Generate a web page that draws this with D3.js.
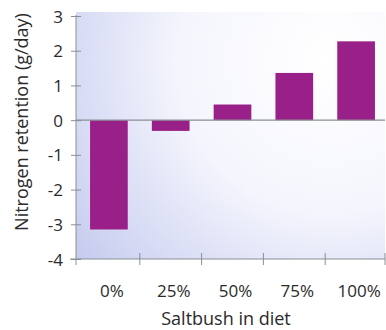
<!DOCTYPE html>
<html><head><meta charset="utf-8">
<script src="https://cdn.jsdelivr.net/npm/d3@7"></script>
<style>html,body{margin:0;padding:0;background:#fff;}svg{display:block;}</style>
</head><body>
<script>
const categories = ["0%", "25%", "50%", "75%", "100%"];
const values = [-3.15, -0.31, 0.45, 1.36, 2.27];
const yTicks = [3, 2, 1, 0, -1, -2, -3, -4];
const yTitle = "Nitrogen retention (g/day)";
const xTitle = "Saltbush in diet";

const W = 386, H = 330;
const svg = d3.select("body").append("svg").attr("width", W).attr("height", H);
const mL = 76, mR = 385, mT = 16, mB = 259;

const x = d3.scaleBand().domain(categories).range([mL, mR]).paddingInner(0.39).paddingOuter(0.195);
const y = d3.scaleLinear().domain([-4, 3]).range([mB, mT]);

const defs = svg.append("defs");
const grad = defs.append("radialGradient").attr("id", "bg")
  .attr("gradientUnits", "userSpaceOnUse")
  .attr("cx", 330).attr("cy", 60).attr("r", 330);
grad.append("stop").attr("offset", "0").attr("stop-color", "#ffffff");
grad.append("stop").attr("offset", "0.45").attr("stop-color", "#f5f6fd");
grad.append("stop").attr("offset", "1").attr("stop-color", "#c3c9ee");

svg.append("rect").attr("x", mL).attr("y", y(3) - 4).attr("width", mR - mL).attr("height", mB - y(3) + 4)
  .attr("fill", "url(#bg)");

// bars
svg.selectAll("rect.bar").data(values).enter().append("rect").attr("class", "bar")
  .attr("x", (d, i) => x(categories[i]) + 2)
  .attr("width", x.bandwidth())
  .attr("y", d => y(Math.max(0, d)))
  .attr("height", d => Math.abs(y(d) - y(0)))
  .attr("fill", "#9a2089");

// zero line
svg.append("line").attr("x1", mL).attr("x2", mR).attr("y1", y(0)).attr("y2", y(0))
  .attr("stroke", "#8a8f94").attr("stroke-width", 1.2);

// y axis
const yAxis = d3.axisLeft(y).tickValues(yTicks).tickSize(0).tickPadding(0).tickFormat(d => String(d));
const gy = svg.append("g").attr("transform", `translate(${mL},0)`).call(yAxis);
gy.select(".domain").attr("stroke", "#8a8f94").attr("d", `M0,${y(3) - 1}V${mB + 6}`);
gy.selectAll(".tick line").remove();
gy.selectAll(".tick").append("line").attr("x1", -5).attr("x2", 5).attr("stroke", "#8a8f94");
gy.selectAll(".tick text").attr("x", -13).attr("dy", "0.36em")
  .attr("font-family", "Open Sans").attr("font-size", 17).attr("fill", "#2a2a2a");

// x axis
const xAxis = d3.axisBottom(x).tickSize(0).tickPadding(0);
const gx = svg.append("g").attr("transform", `translate(0,${mB})`).call(xAxis);
gx.select(".domain").attr("stroke", "#8a8f94").attr("d", `M${mL - 6},0H${mR}`);
gx.selectAll(".tick line").remove();
gx.selectAll(".tick text").attr("y", 38).attr("dx", 5).attr("dy", 0)
  .attr("font-family", "Open Sans").attr("font-size", 17).attr("fill", "#2a2a2a");
// boundary ticks between categories
const bounds = categories.map((c, i) => i === 0 ? null : x(c) - x.step() * x.paddingInner() / 2 + 2).filter(v => v !== null);
bounds.push(mR);
gx.selectAll("line.bt").data(bounds).enter().append("line").attr("class", "bt")
  .attr("x1", d => d).attr("x2", d => d).attr("y1", -6).attr("y2", 6).attr("stroke", "#8a8f94");

svg.append("text").attr("x", 226).attr("y", 325).attr("text-anchor", "middle")
  .attr("font-family", "Open Sans").attr("font-size", 18).attr("fill", "#2a2a2a").text(xTitle);
svg.append("text").attr("transform", "translate(28,122) rotate(-90)").attr("text-anchor", "middle")
  .attr("font-family", "Open Sans").attr("font-size", 18).attr("fill", "#2a2a2a").text(yTitle);
</script>
</body></html>
